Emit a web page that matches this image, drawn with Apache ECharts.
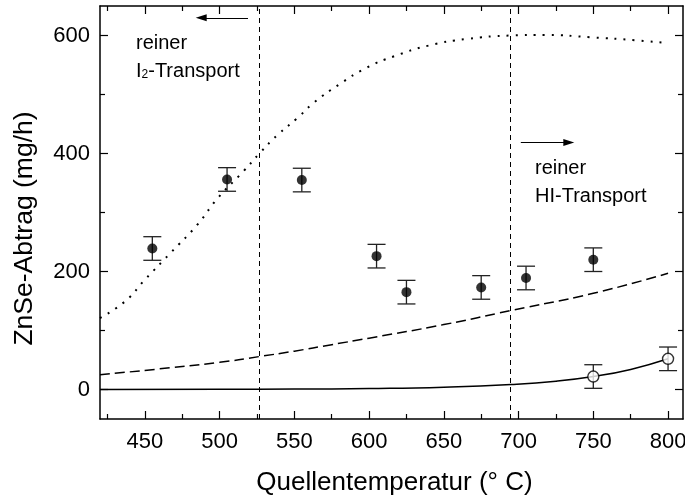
<!DOCTYPE html>
<html>
<head>
<meta charset="utf-8">
<style>
  html, body { margin: 0; padding: 0; background: #fff; }
  #chart { width: 685px; height: 495px; }
</style>
<script src="https://cdn.jsdelivr.net/npm/echarts@6/dist/echarts.min.js"></script>
</head>
<body>
<div id="chart"></div>
<script>
  // Messpunkte (gefüllt) und HI-Punkte (offen), Fehler ±20 mg/h
  const tempFilled = [455, 505, 555, 605, 625, 675, 705, 750]
  const rateFilled = [239, 356, 355, 226, 165, 173, 189, 220]
  const errFilled = [20, 20, 20, 20, 20, 20, 20, 20]
  const tempOpen = [750, 800]
  const rateOpen = [22, 52]
  const errOpen = [20, 20]

  // berechnete Kurven
  const solidT = [420, 500, 550, 600, 650, 695, 725, 750, 775, 800]
  const solidV = [0.1, 0.3, 0.7, 1.7, 4, 8.5, 14, 22, 34, 52]
  const dashT = [420, 460, 500, 527, 550, 575, 600, 650, 695, 750, 800]
  const dashV = [25, 35, 46, 56, 65, 76, 87, 110, 134, 163, 197]
  const dotT = [420, 437, 450, 467, 485, 499, 516, 527, 539, 552, 563, 580, 598, 617, 640, 665, 695, 718, 748, 778, 796]
  const dotV = [121, 150, 186, 231, 279, 325, 370, 401, 432, 460, 486, 517, 545, 565, 583, 594, 600, 601, 597, 592, 588]

  // Grenzen der Transportbereiche
  const borders = [526.5, 694.5]

  const xMajor = [450, 500, 550, 600, 650, 700, 750, 800]
  const xMinor = [425, 475, 525, 575, 625, 675, 725, 775]
  const yMajor = [0, 200, 400, 600]
  const yMinor = [100, 300, 500]

  const font = '"Liberation Sans", Arial, sans-serif'
  const black = '#000'

  function pairs(xs, ys) {
    return xs.map((x, i) => [x, ys[i]])
  }
  function triples(xs, ys, es) {
    return xs.map((x, i) => [x, ys[i], es[i]])
  }

  function errorBar(params, api) {
    const x = api.value(0)
    const y = api.value(1)
    const e = api.value(2)
    const top = api.coord([x, y + e])
    const bot = api.coord([x, y - e])
    const hw = 9
    const style = {stroke: '#222', lineWidth: 1.3}
    return {
      type: 'group',
      children: [
        {type: 'line', shape: {x1: top[0], y1: top[1], x2: bot[0], y2: bot[1]}, style: style},
        {type: 'line', shape: {x1: top[0] - hw, y1: top[1], x2: top[0] + hw, y2: top[1]}, style: style},
        {type: 'line', shape: {x1: bot[0] - hw, y1: bot[1], x2: bot[0] + hw, y2: bot[1]}, style: style}
      ]
    }
  }

  function xAx(grid, pos, ticks, len, opts) {
    return Object.assign({
      type: 'value', gridIndex: grid, position: pos, min: 420, max: 810,
      axisLine: {show: grid === 0, onZero: false, lineStyle: {color: black, width: 1.5}},
      axisTick: {show: true, inside: true, length: len, customValues: ticks, lineStyle: {color: black, width: 1.2}},
      axisLabel: {show: false},
      splitLine: {show: false}
    }, opts || {})
  }
  function yAx(grid, pos, ticks, len, opts) {
    return Object.assign({
      type: 'value', gridIndex: grid, position: pos, min: -50, max: 650,
      axisLine: {show: grid === 0, onZero: false, lineStyle: {color: black, width: 1.5}},
      axisTick: {show: true, inside: true, length: len, customValues: ticks, lineStyle: {color: black, width: 1.2}},
      axisLabel: {show: false},
      splitLine: {show: false}
    }, opts || {})
  }

  const arrowEnd = {symbol: 'triangle', symbolSize: [7, 11]}
  const gridBox = {left: 100, right: 2, top: 6, bottom: 76, outerBoundsMode: 'none', containLabel: false}

  const chart = echarts.init(document.getElementById('chart'))
  chart.setOption({
    animation: false,
    backgroundColor: '#fff',
    textStyle: {fontFamily: font},
    grid: [Object.assign({}, gridBox), Object.assign({}, gridBox)],
    xAxis: [
      xAx(0, 'bottom', xMajor, 8, {
        name: 'Quellentemperatur (° C)',
        nameLocation: 'middle',
        nameGap: 51,
        nameTextStyle: {color: black, fontSize: 26, fontFamily: font, padding: [0, 0, 0, 6]},
        axisLabel: {show: true, customValues: xMajor, color: black, fontSize: 22, fontFamily: font, margin: 12}
      }),
      xAx(0, 'top', xMajor, 8),
      xAx(1, 'bottom', xMinor, 5),
      xAx(1, 'top', xMinor, 5)
    ],
    yAxis: [
      yAx(0, 'left', yMajor, 8, {
        name: 'ZnSe-Abtrag (mg/h)',
        nameLocation: 'middle',
        nameGap: 62,
        nameTextStyle: {color: black, fontSize: 26.5, fontFamily: font, padding: [0, 32, 0, 0]},
        axisLabel: {show: true, customValues: yMajor, color: black, fontSize: 22, fontFamily: font, margin: 10}
      }),
      yAx(0, 'right', yMajor, 8),
      yAx(1, 'left', yMinor, 5),
      yAx(1, 'right', yMinor, 5)
    ],
    series: [
      {
        type: 'line',
        data: pairs(dotT, dotV),
        smooth: 0.5,
        showSymbol: false,
        lineStyle: {color: black, width: 2, type: [2, 7]},
        markLine: {
          silent: true,
          symbol: ['none', 'none'],
          label: {show: false},
          lineStyle: {color: black, width: 1, type: [5, 4]},
          data: borders.map(b => ({xAxis: b}))
        }
      },
      {
        type: 'line',
        data: pairs(dashT, dashV),
        smooth: 0.5,
        showSymbol: false,
        lineStyle: {color: black, width: 1.5, type: [10, 5]},
        markLine: {
          silent: true,
          label: {show: false},
          lineStyle: {color: black, width: 1.2, type: 'solid'},
          data: [
            [{coord: [519, 630], symbol: 'none'}, Object.assign({coord: [487.7, 630]}, arrowEnd)],
            [{coord: [701.5, 418.6], symbol: 'none'}, Object.assign({coord: [733.6, 418.6]}, arrowEnd)]
          ]
        }
      },
      {
        type: 'line',
        data: pairs(solidT, solidV),
        smooth: 0.5,
        showSymbol: false,
        lineStyle: {color: black, width: 1.5}
      },
      {
        type: 'custom',
        renderItem: errorBar,
        data: triples(tempFilled, rateFilled, errFilled),
        z: 3
      },
      {
        type: 'custom',
        renderItem: errorBar,
        data: triples(tempOpen, rateOpen, errOpen),
        z: 3
      },
      {
        type: 'scatter',
        data: pairs(tempFilled, rateFilled),
        symbol: 'circle',
        symbolSize: 10,
        itemStyle: {color: black},
        z: 4
      },
      {
        type: 'scatter',
        data: pairs(tempOpen, rateOpen),
        symbol: 'circle',
        symbolSize: 11,
        itemStyle: {color: '#fff', borderColor: black, borderWidth: 1.4},
        z: 4
      }
    ],
    graphic: [
      {type: 'text', left: 136, top: 33, style: {text: 'reiner', font: '20px ' + font, fill: black}},
      {
        type: 'text', left: 136, top: 61,
        style: {
          text: 'I{sub|2}-Transport',
          font: '20px ' + font,
          fill: black,
          rich: {sub: {fontSize: 12, fontFamily: font, verticalAlign: 'bottom', padding: [8, 0, 0, 0]}}
        }
      },
      {type: 'text', left: 535, top: 158, style: {text: 'reiner', font: '20px ' + font, fill: black}},
      {type: 'text', left: 535, top: 186, style: {text: 'HI-Transport', font: '20px ' + font, fill: black}}
    ]
  })
</script>
</body>
</html>
